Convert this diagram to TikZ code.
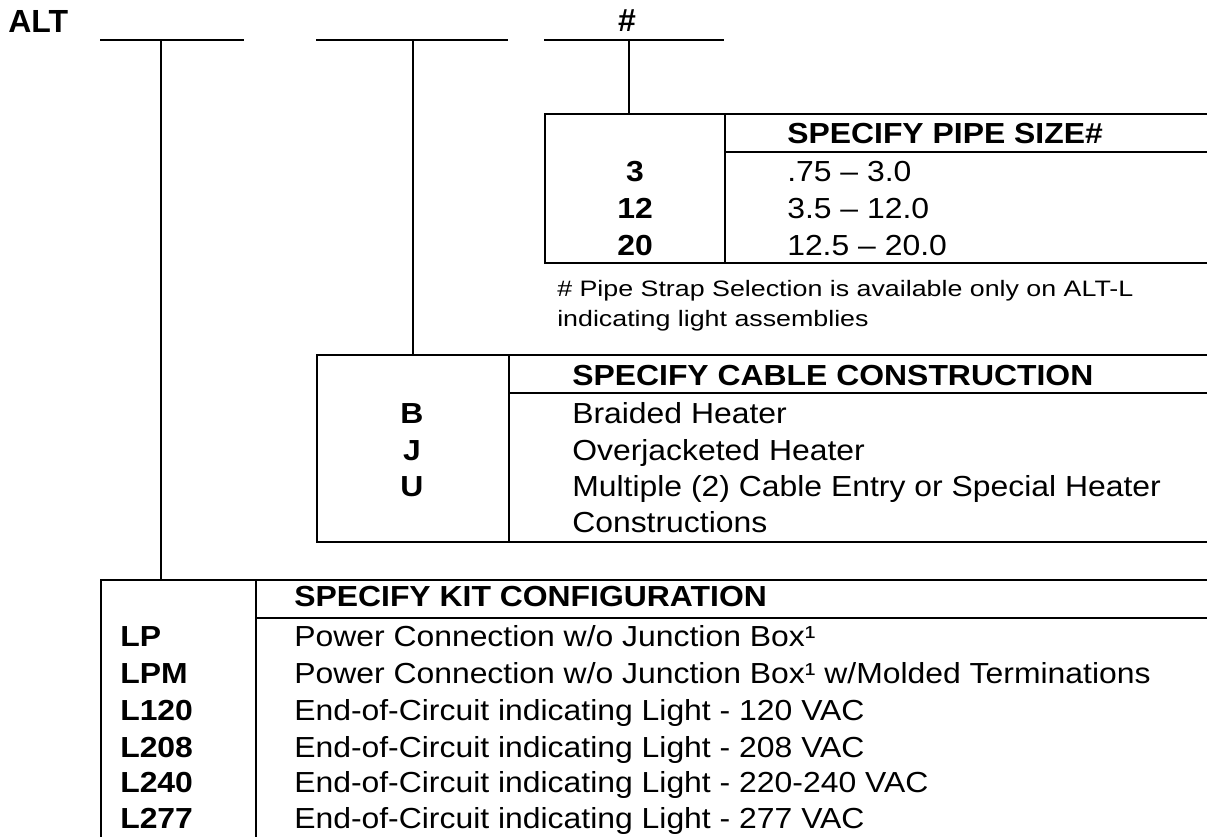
\documentclass[tikz,border=0pt]{standalone}
\usepackage{fontspec}
\setmainfont{Liberation Sans}[FakeStretch=1.10]
\newfontfamily\plainfont{Liberation Sans}
\newfontfamily\notefont{Liberation Sans}[FakeStretch=1.2]
\begin{document}
\begin{tikzpicture}[x=0.75pt,y=-0.75pt,
  rule/.style={line width=1.5pt},
  big/.style={font=\plainfont\fontsize{24}{28}\selectfont\bfseries, inner sep=0},
  hdr/.style={font=\fontsize{21.75}{25}\selectfont\bfseries, anchor=base west, inner sep=0},
  codec/.style={font=\fontsize{21.75}{25}\selectfont\bfseries, anchor=base, inner sep=0},
  codel/.style={font=\fontsize{21.75}{25}\selectfont\bfseries, anchor=base west, inner sep=0},
  txt/.style={font=\fontsize{21.75}{25}\selectfont, anchor=base west, inner sep=0},
  note/.style={font=\notefont\fontsize{16.75}{20}\selectfont, anchor=base west, inner sep=0}]
\useasboundingbox (0,0) rectangle (1207,837);

% header label and blanks
\node[big, anchor=base west] (alt) at (8,33) {ALT};
\node[big, anchor=base] (hash) at (627,32) {\#};

\coordinate (l1a) at (100,40); \coordinate (l1b) at (244,40); \coordinate (l1m) at (161,40);
\coordinate (l2a) at (316,40); \coordinate (l2b) at (508,40); \coordinate (l2m) at (413,40);
\coordinate (l3a) at (544,40); \coordinate (l3b) at (724,40); \coordinate (l3m) at (629,40);
\draw[rule] (l1a) -- (l1b);
\draw[rule] (l2a) -- (l2b);
\draw[rule] (l3a) -- (l3b);

% pipe size table
\coordinate (pin) at (629,114);
\coordinate (ptl) at (545,114); \coordinate (ptr) at (1207,114);
\coordinate (pbl) at (545,263); \coordinate (pbr) at (1207,263);
\coordinate (pdt) at (725,114); \coordinate (pdb) at (725,263);
\coordinate (psl) at (725,152); \coordinate (psr) at (1207,152);
\draw[rule] (ptr) -- (ptl) -- (pbl) -- (pbr);
\draw[rule] (pdt) -- (pdb);
\draw[rule] (psl) -- (psr);
\draw[rule] (l3m) -- (pin);

\node[hdr] (ph) at (787,144) {SPECIFY PIPE SIZE\#};
\node[codec] (p1c) at (635,182) {3};
\node[codec] (p2c) at (635,219) {12};
\node[codec] (p3c) at (635,256) {20};
\node[txt] (p1t) at (787,182) {.75 – 3.0};
\node[txt] (p2t) at (787,219) {3.5 – 12.0};
\node[txt] (p3t) at (787,256) {12.5 – 20.0};

\node[note] (n1) at (557,297) {\# Pipe Strap Selection is available only on ALT-L};
\node[note] (n2) at (557,327) {indicating light assemblies};

% cable construction table
\coordinate (cin) at (413,355);
\coordinate (ctl) at (317,355); \coordinate (ctr) at (1207,355);
\coordinate (cbl) at (317,542); \coordinate (cbr) at (1207,542);
\coordinate (cdt) at (509,355); \coordinate (cdb) at (509,542);
\coordinate (csl) at (509,393); \coordinate (csr) at (1207,393);
\draw[rule] (ctr) -- (ctl) -- (cbl) -- (cbr);
\draw[rule] (cdt) -- (cdb);
\draw[rule] (csl) -- (csr);
\draw[rule] (l2m) -- (cin);

\node[hdr] (ch) at (572,386) {SPECIFY CABLE CONSTRUCTION};
\node[codec] (c1c) at (412,424) {B};
\node[codec] (c2c) at (412,461) {J};
\node[codec] (c3c) at (412,497) {U};
\node[txt] (c1t) at (572,424) {Braided Heater};
\node[txt] (c2t) at (572,461) {Overjacketed Heater};
\node[txt] (c3t) at (572,497) {Multiple (2) Cable Entry or Special Heater};
\node[txt] (c4t) at (572,533) {Constructions};

% kit configuration table
\coordinate (kin) at (161,580);
\coordinate (ktl) at (101,580); \coordinate (ktr) at (1207,580);
\coordinate (kbl) at (101,837);
\coordinate (kdt) at (256,580); \coordinate (kdb) at (256,837);
\coordinate (ksl) at (256,618); \coordinate (ksr) at (1207,618);
\draw[rule] (ktr) -- (ktl) -- (kbl);
\draw[rule] (kdt) -- (kdb);
\draw[rule] (ksl) -- (ksr);
\draw[rule] (l1m) -- (kin);

\node[hdr] (kh) at (294,606) {SPECIFY KIT CONFIGURATION};
\node[codel] (k1c) at (120,647) {LP};
\node[codel] (k2c) at (120,683) {LPM};
\node[codel] (k3c) at (120,720) {L120};
\node[codel] (k4c) at (120,757) {L208};
\node[codel] (k5c) at (120,792) {L240};
\node[codel] (k6c) at (120,828) {L277};
\node[txt] (k1t) at (294,647) {Power Connection w/o Junction Box¹};
\node[txt] (k2t) at (294,683) {Power Connection w/o Junction Box¹ w/Molded Terminations};
\node[txt] (k3t) at (294,720) {End-of-Circuit indicating Light - 120 VAC};
\node[txt] (k4t) at (294,757) {End-of-Circuit indicating Light - 208 VAC};
\node[txt] (k5t) at (294,792) {End-of-Circuit indicating Light - 220-240 VAC};
\node[txt] (k6t) at (294,828) {End-of-Circuit indicating Light - 277 VAC};
\end{tikzpicture}
\end{document}
